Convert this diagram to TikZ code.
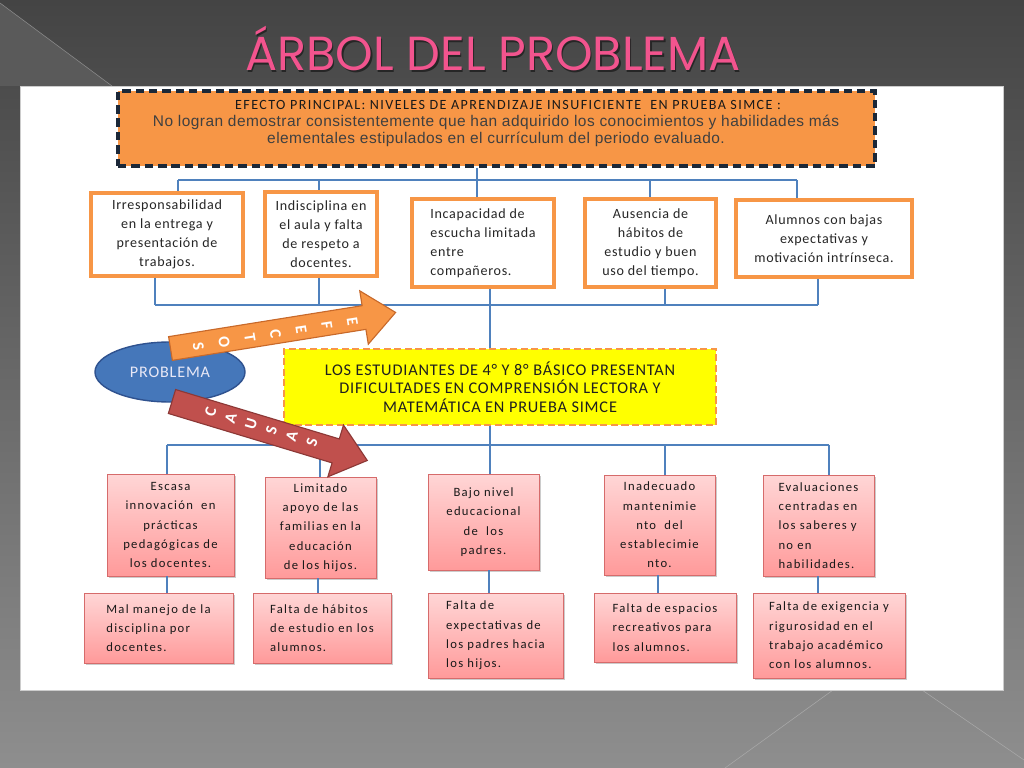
\documentclass[tikz,border=0pt]{standalone}
\usepackage{fontspec}
\setmainfont{Carlito}
\newfontfamily\arialfont[LetterSpace=3]{Liberation Sans}
\newfontfamily\wideCarlito[LetterSpace=5]{Carlito}
\newfontfamily\widerCarlito[LetterSpace=10]{Carlito}
\newfontfamily\titlefont{Poppins}
\usetikzlibrary{shapes.geometric}
\usetikzlibrary{shadows}
\definecolor{slideTop}{HTML}{444444}
\definecolor{slideBottom}{HTML}{8E8E8E}
\definecolor{slideWedge}{HTML}{5A5A5A}
\definecolor{slideLine}{HTML}{A8A8A8}
\definecolor{titlePink}{HTML}{F2548E}
\definecolor{efectoOrange}{HTML}{F79646}
\definecolor{dashNavy}{HTML}{1B2838}
\definecolor{linkBlue}{HTML}{4F81BD}
\definecolor{problemBlue}{HTML}{4577BA}
\definecolor{problemEdge}{HTML}{2F528F}
\definecolor{problemText}{HTML}{E8E8F6}
\definecolor{causeRed}{HTML}{C0504D}
\definecolor{causeEdge}{HTML}{8C3836}
\definecolor{arrowEdge}{HTML}{C8692A}
\definecolor{centralYellow}{HTML}{FFFF00}
\definecolor{pinkTop}{HTML}{FFD6D6}
\definecolor{pinkBottom}{HTML}{FF9A9A}
\definecolor{pinkEdge}{HTML}{D66B6B}

\begin{document}
\begin{tikzpicture}[x=0.025cm,y=-0.025cm]

            \tikzstyle{link} = [draw=linkBlue, line width=0.75pt];
            \tikzstyle{efectoBox} = [draw=efectoOrange, line width=2.4pt, fill=white, align=center, text=black!85, font=\wideCarlito\fontsize{10}{13.6}\selectfont];
            \tikzstyle{causaBox} = [draw=pinkEdge, line width=0.6pt, top color=pinkTop, bottom color=pinkBottom, drop shadow={shadow xshift=0.06cm, shadow yshift=-0.06cm, opacity=0.4}, align=center, text=black!90, font=\widerCarlito\fontsize{9}{13.7}\selectfont];
            \tikzstyle{arrowLetter} = [text=white, inner sep=0pt, font=\bfseries\fontsize{11.5}{11.5}\selectfont];
            \tikzset{boxsize/.style 2 args={minimum width=#1*0.025cm, minimum height=#2*0.025cm}};

            \useasboundingbox (0,0) rectangle (1024,768);

            % slide background
            \fill[top color=slideTop, bottom color=slideBottom] (0,0) rectangle (1024,768);
            \fill[slideWedge] (0,3) -- (112,86) -- (0,86) -- cycle;
            \draw[slideLine!70!slideTop] (0,3) -- (112,86);
            \draw[slideLine] (833,690) -- (725,768);
            \draw[slideLine] (922,690) -- (1024,760);
            \draw[draw=black!20, fill=white] (20,86) rectangle (1003,690);

            \node[anchor=base, text=black!85, font=\titlefont\fontsize{34}{34}\selectfont] (tituloSombra) at (494.2,72.2) {ÁRBOL DEL PROBLEMA};
            \node[anchor=base, text=titlePink, font=\titlefont\fontsize{34}{34}\selectfont] (titulo) at (493,71) {ÁRBOL DEL PROBLEMA};

            % efecto principal
            \node[draw=dashNavy, line width=2.3pt, dash pattern=on 6pt off 3.5pt, fill=efectoOrange, boxsize={757}{75}] (efecto) at (496.5,128.5) {};
            \node[align=center, text=black!75, font=\arialfont\fontsize{11}{12.4}\selectfont] (efectoTxt) at (496,123.5)
              {\hspace*{0.6cm}{\widerCarlito\fontsize{10}{12.4}\selectfont\color{black!90}EFECTO PRINCIPAL: NIVELES DE APRENDIZAJE INSUFICIENTE\ \ EN PRUEBA SIMCE :}\\
               No logran demostrar consistentemente que han adquirido los conocimientos y habilidades más\\
               elementales estipulados en el currículum del periodo evaluado.};

            % efectos
            \node[efectoBox, boxsize={152}{83}] (irresp) at (167,234.5) {Irresponsabilidad\\en la entrega y\\presentación de\\trabajos.};
            \node[efectoBox, boxsize={112}{84}] (indisc) at (321,234) {Indisciplina en\\el aula y falta\\de respeto a\\docentes.};
            \node[efectoBox, boxsize={142}{88}, align=left] (incap) at (483,243) {Incapacidad de\\escucha limitada\\entre\\compañeros.};
            \node[efectoBox, boxsize={131}{88}] (ausen) at (650.5,243) {Ausencia de\\hábitos de\\estudio y buen\\uso del tiempo.};
            \node[efectoBox, boxsize={176}{77}] (bajas) at (824,238.5) {Alumnos con bajas\\expectativas y\\motivación intrínseca.};

            % problema central
            \node[draw=efectoOrange, line width=2pt, dash pattern=on 5pt off 2.5pt, fill=centralYellow, boxsize={432}{76}, align=center, text=black!88, font=\wideCarlito\fontsize{11.6}{13.2}\selectfont] (central) at (500,387)
              {LOS ESTUDIANTES DE 4° Y 8° BÁSICO PRESENTAN\\DIFICULTADES EN COMPRENSIÓN LECTORA Y\\MATEMÁTICA EN PRUEBA SIMCE};
            \node[ellipse, draw=problemEdge, line width=1pt, fill=problemBlue, minimum width=150*0.025cm, minimum height=60*0.025cm, text=problemText, font=\wideCarlito\fontsize{11.5}{12}\selectfont] (problema) at (170,372) {PROBLEMA};

            % causas
            \node[causaBox, boxsize={127}{102}] (escasa) at (170.5,525) {Escasa\\innovación\ \ en\\prácticas\\pedagógicas de\\los docentes.};
            \node[causaBox, boxsize={111}{101}] (limitado) at (320.5,527.5) {Limitado\\apoyo de las\\familias en la\\educación\\de los hijos.};
            \node[causaBox, boxsize={111}{96}] (bajonivel) at (483.5,522) {Bajo nivel\\educacional\\de\ \ los\\padres.};
            \node[causaBox, boxsize={111}{100}] (inadec) at (659.5,525) {Inadecuado\\mantenimie\\nto\ \ del\\establecimie\\nto.};
            \node[causaBox, boxsize={111}{101}, align=left] (evalua) at (818.5,525.5) {Evaluaciones\\centradas en\\los saberes y\\no en\\habilidades.};

            \node[causaBox, boxsize={149}{70}, align=left] (malmanejo) at (158.5,628) {Mal manejo de la\\disciplina por\\docentes.};
            \node[causaBox, boxsize={138}{70}, align=left] (habitos) at (322,628) {Falta de hábitos\\de estudio en los\\alumnos.};
            \node[causaBox, boxsize={135}{85}, align=left] (expect) at (495.5,635.5) {Falta de\\expectativas de\\los padres hacia\\los hijos.};
            \node[causaBox, boxsize={142}{69}, align=left] (espacios) at (665,627.5) {Falta de espacios\\recreativos para\\los alumnos.};
            \node[causaBox, boxsize={152}{85}, align=left] (exigencia) at (829,635.5) {Falta de exigencia y\\rigurosidad en el\\trabajo académico\\con los alumnos.};

            % conectores
            \foreach \x/\n in {178/irresp, 319/indisc, 477/incap, 650/ausen, 797/bajas} {
              \coordinate (up-\n) at (\x,180);
              \draw[link] (up-\n) -- (up-\n |- \n.north);
            }
            \draw[link] (up-irresp) -- (up-bajas);
            \draw[link] (efecto.south -| up-incap) -- (up-incap);

            \foreach \x/\n in {155/irresp, 319/indisc, 490/incap, 665/ausen, 818/bajas} {
              \coordinate (dn-\n) at (\x,305);
              \draw[link] (dn-\n |- \n.south) -- (dn-\n);
            }
            \draw[link] (dn-irresp) -- (dn-bajas);
            \draw[link] (dn-incap) -- (dn-incap |- central.north);

            \foreach \x/\n in {167/escasa, 320/limitado, 490/bajonivel, 665/inadec, 829/evalua} {
              \coordinate (ca-\n) at (\x,445);
              \draw[link] (ca-\n) -- (ca-\n |- \n.north);
            }
            \draw[link] (ca-escasa) -- (ca-evalua);
            \draw[link] (central.south -| ca-bajonivel) -- (ca-bajonivel);

            \foreach \x/\a/\b in {167/escasa/malmanejo, 318/limitado/habitos, 489/bajonivel/expect, 658/inadec/espacios, 818/evalua/exigencia} {
              \coordinate (sub-\a) at (\x,585);
              \draw[link] (sub-\a |- \a.south) -- (sub-\a |- \b.north);
            }

            % flechas
            \begin{scope}[shift={(170.5,348.5)}, rotate=9.1]
              \filldraw[fill=efectoOrange, draw=arrowEdge, line width=0.8pt] (0,-12) -- (196,-12) -- (196,-27) -- (228,0) -- (196,27) -- (196,12) -- (0,12) -- cycle;
              \foreach \l [count=\i] in {E,F,E,C,T,O,S}
                \node[arrowLetter, rotate=-81] (ef\i) at ({184-(\i-1)*26},2) {\l};
            \end{scope}
            \begin{scope}[shift={(172,401.5)}, rotate=-16.8]
              \filldraw[fill=causeRed, draw=causeEdge, line width=0.8pt] (0,-12.5) -- (171,-12.5) -- (171,-27) -- (204,0) -- (171,27) -- (171,12.5) -- (0,12.5) -- cycle;
              \foreach \l [count=\i] in {C,A,U,S,A,S}
                \node[arrowLetter, rotate=73.2] (ca\i) at ({40+(\i-1)*21.2},-1) {\l};
            \end{scope}
          \end{tikzpicture}
\end{document}
